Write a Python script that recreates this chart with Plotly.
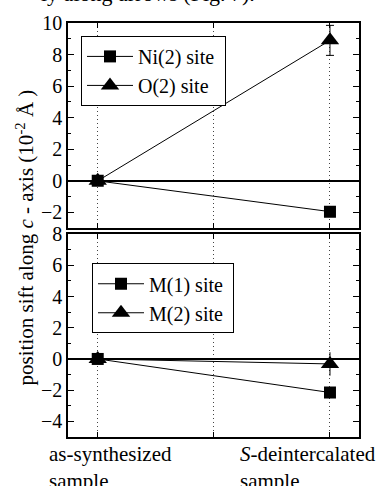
import plotly.graph_objects as go

# ---- data ----
samples = [0, 2]
sample_labels = ["as-synthesized<br>sample", "<i>S</i>-deintercalated<br>sample"]

ni2 = [0.0, -1.95]
o2 = [0.0, 8.9]
o2_err = [0.0, 0.95]

m1 = [0.0, -2.15]
m2 = [0.0, -0.32]
m2_err = [0.0, 0.75]

FONT = "Liberation Serif"
NB = "\u00a0"

fig = go.Figure()

line = dict(color="black", width=1)
fig.add_trace(go.Scatter(x=samples, y=ni2, mode="lines+markers", name="Ni(2) site" + NB,
                         line=line, marker=dict(symbol="square", size=12, color="black"),
                         xaxis="x", yaxis="y", legend="legend"))
fig.add_trace(go.Scatter(x=samples, y=o2, mode="lines+markers", name="O(2) site",
                         line=line, marker=dict(symbol="triangle-up", size=16, color="black"),
                         error_y=dict(type="data", array=o2_err, color="black", thickness=1, width=4),
                         xaxis="x", yaxis="y", legend="legend"))
fig.add_trace(go.Scatter(x=samples, y=m1, mode="lines+markers", name="M(1) site" + NB,
                         line=line, marker=dict(symbol="square", size=12, color="black"),
                         xaxis="x2", yaxis="y2", legend="legend2"))
fig.add_trace(go.Scatter(x=samples, y=m2, mode="lines+markers", name="M(2) site",
                         line=line, marker=dict(symbol="triangle-up", size=16, color="black"),
                         error_y=dict(type="data", array=m2_err, color="black", thickness=1, width=0),
                         xaxis="x2", yaxis="y2", legend="legend2"))

W, H = 383, 486
L, R, T, B = 68, 24, 20, 49
ph = H - T - B

def yfrac(px):
    return (H - B - px) / ph

def xfrac(px):
    return (px - L) / (W - L - R)

xcommon = dict(range=[-0.256, 2.25], tickvals=[0, 1, 2], showticklabels=False,
               ticks="inside", ticklen=5, tickcolor="black", tickwidth=1,
               showgrid=True, gridcolor="#444", griddash="1px,3px", gridwidth=1,
               showline=True, linecolor="black", linewidth=1.5, mirror="ticks",
               zeroline=False)
ycommon = dict(ticks="inside", ticklen=6, tickcolor="black", tickwidth=1,
               minor=dict(dtick=1, ticks="inside", ticklen=3, tickcolor="black", tickwidth=1),
               showgrid=False, showline=True, linecolor="black", linewidth=1.5, mirror="allticks",
               zeroline=True, zerolinecolor="black", zerolinewidth=1.5,
               tickfont=dict(family=FONT, size=20, color="black"))

fig.update_layout(
    width=W, height=H,
    margin=dict(l=L, r=R, t=T, b=B),
    plot_bgcolor="white", paper_bgcolor="white",
    font=dict(family=FONT, size=20, color="black"),
    xaxis=dict(**xcommon, anchor="y"),
    xaxis2=dict(**xcommon, anchor="y2", matches="x"),
    yaxis=dict(**ycommon, range=[-3, 10], domain=[yfrac(226.7), 1.0], anchor="x",
               tickvals=[-2, 0, 2, 4, 6, 8, 10]),
    yaxis2=dict(**ycommon, range=[-5, 8], domain=[0.0, yfrac(232.6)], anchor="x2",
                tickvals=[-4, -2, 0, 2, 4, 6, 8]),
    legend=dict(x=xfrac(81), y=yfrac(33), xanchor="left", yanchor="top",
                bordercolor="black", borderwidth=1, bgcolor="white",
                font=dict(family=FONT, size=20), itemwidth=46, tracegroupgap=0),
    legend2=dict(x=xfrac(92), y=yfrac(262), xanchor="left", yanchor="top",
                 bordercolor="black", borderwidth=1, bgcolor="white",
                 font=dict(family=FONT, size=20), itemwidth=46, tracegroupgap=0),
    showlegend=True,
)

# category labels under bottom panel
label_px = [47, 238]
for lx, txt in zip(label_px, sample_labels):
    fig.add_annotation(text=txt, xref="paper", yref="paper", x=xfrac(lx), y=yfrac(440),
                       xanchor="left", yanchor="top", align="left", showarrow=False,
                       font=dict(family=FONT, size=21, color="black"))

# y axis title
fig.add_annotation(text="position sift along <i>c</i> - axis (10<sup>-2</sup> Å )",
                   xref="paper", yref="paper", x=xfrac(25), y=yfrac(236), textangle=-90,
                   xanchor="center", yanchor="middle", showarrow=False,
                   font=dict(family=FONT, size=21, color="black"))

# cropped text line from the page above
fig.add_annotation(text="ly along arrows (Fig. 7).", xref="paper", yref="paper",
                   x=xfrac(257), y=yfrac(-10), xanchor="right", yanchor="middle", showarrow=False,
                   font=dict(family=FONT, size=22, color="black"))

fig.write_html("out.html", config={"displayModeBar": False},
               post_script="document.body.style.margin='0';document.body.style.padding='0';")
